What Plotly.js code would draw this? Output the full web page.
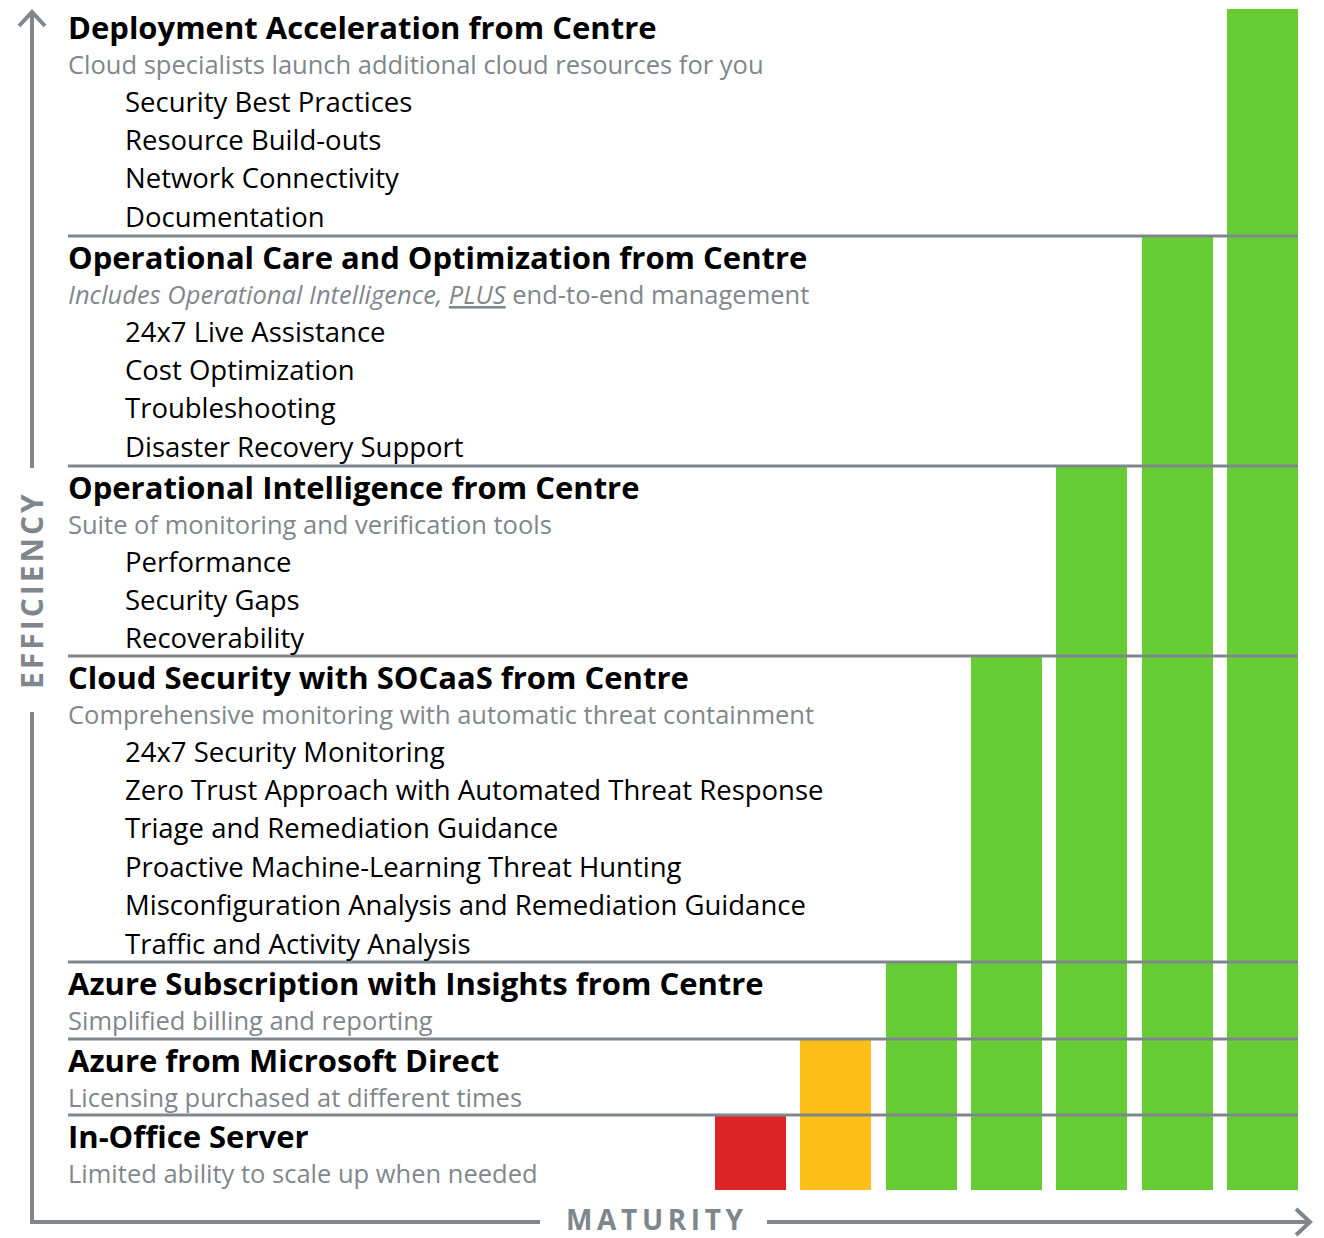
<!DOCTYPE html>
<html>
<head>
<meta charset="utf-8">
<script src="https://cdn.plot.ly/plotly-3.0.1.min.js"></script>
<style>html,body{margin:0;padding:0;background:#fff;}#chart{width:1324px;height:1238px;}</style>
</head>
<body>
<div id="chart"></div>
<script>
// ---- data ----
const stages = [
  "In-Office Server",
  "Azure from Microsoft Direct",
  "Azure Subscription with Insights from Centre",
  "Cloud Security with SOCaaS from Centre",
  "Operational Intelligence from Centre",
  "Operational Care and Optimization from Centre",
  "Deployment Acceleration from Centre"
];
const efficiency = [75, 151, 228, 534, 724, 954, 1181];
const barColors = ["#dc2426", "#fdbe18", "#66cc33", "#66cc33", "#66cc33", "#66cc33", "#66cc33"];
const subtitles = [
  "Limited ability to scale up when needed",
  "Licensing purchased at different times",
  "Simplified billing and reporting",
  "Comprehensive monitoring with automatic threat containment",
  "Suite of monitoring and verification tools",
  "<i>Includes Operational Intelligence, <u>PLUS</u></i> end-to-end management",
  "Cloud specialists launch additional cloud resources for you"
];
const features = [
  [],
  [],
  [],
  ["24x7 Security Monitoring", "Zero Trust Approach with Automated Threat Response", "Triage and Remediation Guidance",
   "Proactive Machine-Learning Threat Hunting", "Misconfiguration Analysis and Remediation Guidance", "Traffic and Activity Analysis"],
  ["Performance", "Security Gaps", "Recoverability"],
  ["24x7 Live Assistance", "Cost Optimization", "Troubleshooting", "Disaster Recovery Support"],
  ["Security Best Practices", "Resource Build-outs", "Network Connectivity", "Documentation"]
];
const xLabel = "MATURITY";
const yLabel = "EFFICIENCY";

// ---- layout helpers ----
const W = 1324, H = 1238;
const px = x => x / W;
const py = y => 1 - y / H;
const GREY = "#7f878c";
const FONT = "'Open Sans', 'Noto Sans', sans-serif";

const xs = stages.map((_, i) => i);
const trace = {
  type: "bar",
  x: xs,
  y: efficiency,
  marker: {color: barColors, line: {width: 0}},
  width: 0.832,
  hoverinfo: "skip",
  text: stages,
  textposition: "none"
};

// x axis: bar 0 centered at px 750.5, spacing 85.33 px
const unit = 512 / 6;
const x0 = -750.5 / unit;
const x1 = x0 + W / unit;

const shapes = [];
const annotations = [];

// separators at the tops of the lower stages
for (let i = 0; i < efficiency.length - 1; i++) {
  shapes.push({type: "line", xref: "paper", yref: "y", x0: px(68), x1: px(1298),
    y0: efficiency[i], y1: efficiency[i], line: {color: GREY, width: 3}, layer: "above"});
}

// text blocks
for (let i = 0; i < stages.length; i++) {
  const top = (i === stages.length - 1) ? 1184 : efficiency[i];
  annotations.push({xref: "paper", yref: "y", x: px(66), y: top - 21, xanchor: "left", yanchor: "middle",
    text: "<b>" + stages[i] + "</b>", showarrow: false, font: {family: FONT, size: 31, color: "#000"}});
  annotations.push({xref: "paper", yref: "y", x: px(66), y: top - 58, xanchor: "left", yanchor: "middle",
    text: subtitles[i], showarrow: false, font: {family: FONT, size: 25.5, color: GREY}});
  features[i].forEach((f, k) => {
    annotations.push({xref: "paper", yref: "y", x: px(123), y: top - 95 - 38.4 * k, xanchor: "left", yanchor: "middle",
      text: f, showarrow: false, font: {family: FONT, size: 27.5, color: "#000"}});
  });
}

// axis arrows
const AX = {color: GREY, width: 4};
shapes.push({type: "line", xref: "paper", yref: "paper", x0: px(32), x1: px(32), y0: py(1224), y1: py(712), line: AX});
shapes.push({type: "line", xref: "paper", yref: "paper", x0: px(32), x1: px(32), y0: py(468), y1: py(12), line: AX});
shapes.push({type: "path", xref: "paper", yref: "paper",
  path: `M${px(19)},${py(26)} L${px(32)},${py(12)} L${px(45)},${py(26)}`, line: AX});
shapes.push({type: "line", xref: "paper", yref: "paper", x0: px(30), x1: px(540), y0: py(1222), y1: py(1222), line: AX});
shapes.push({type: "line", xref: "paper", yref: "paper", x0: px(767), x1: px(1310), y0: py(1222), y1: py(1222), line: AX});
shapes.push({type: "path", xref: "paper", yref: "paper",
  path: `M${px(1296)},${py(1209)} L${px(1310)},${py(1222)} L${px(1296)},${py(1235)}`, line: AX});

annotations.push({xref: "paper", yref: "paper", x: px(655), y: py(1219), xanchor: "center", yanchor: "middle",
  text: "<b>" + xLabel.split("").join("\u2009") + "</b>", showarrow: false, font: {family: FONT, size: 28, color: GREY}});
annotations.push({xref: "paper", yref: "paper", x: px(31), y: py(592), xanchor: "center", yanchor: "middle", textangle: -90,
  text: "<b>" + yLabel.split("").join("\u200A") + "</b>", showarrow: false, font: {family: FONT, size: 30, color: GREY}});

const layout = {
  width: W, height: H,
  margin: {l: 0, r: 0, t: 0, b: 0, pad: 0},
  paper_bgcolor: "#fff", plot_bgcolor: "#fff",
  showlegend: false,
  xaxis: {range: [x0, x1], visible: false, fixedrange: true},
  yaxis: {range: [1190 - H, 1190], visible: false, fixedrange: true},
  shapes: shapes,
  annotations: annotations,
  bargap: 0
};

Plotly.newPlot("chart", [trace], layout, {displayModeBar: false, staticPlot: true});
</script>
</body>
</html>
